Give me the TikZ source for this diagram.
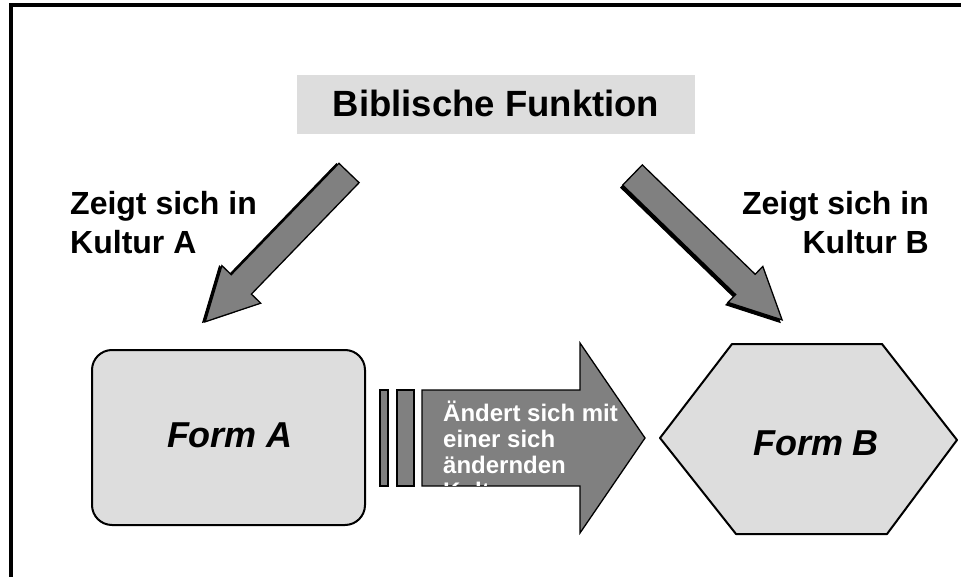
\documentclass[tikz,border=0pt]{standalone}
\usepackage{fontspec}
\setmainfont{Liberation Sans}
\begin{document}
\begin{tikzpicture}[x=1pt,y=-1pt,
  formfill/.style={fill=formgray,draw=black,line width=2pt,line join=round},
  bigarrow/.style={fill=arrowgray,draw=black,line width=1.3pt,line join=miter},
  arrowshadow/.style={fill=black,draw=black,line width=1pt},
  lbl/.style={font=\fontsize{32}{39}\selectfont\bfseries,inner sep=0pt},
  formlbl/.style={font=\fontsize{36}{40}\selectfont\bfseries\itshape,inner sep=0pt},
  flowtext/.style={font=\fontsize{24}{26}\selectfont\bfseries,text=white,inner sep=0pt}
]
\definecolor{formgray}{HTML}{DDDDDD}
\definecolor{arrowgray}{HTML}{808080}
\useasboundingbox (0,0) rectangle (961,577);

% frame on top and left
\draw[line width=4pt] (10.5,577) -- (10.5,5.5) -- (961,5.5);

% heading
\fill[formgray] (297,75) rectangle (695,134);
\node[font=\fontsize{36.5}{40}\selectfont\bfseries,inner sep=0pt,anchor=base] (title) at (496,117) {Biblische Funktion};

% left diagonal arrow
\fill[arrowshadow] [shift={(-2.5,0.5)}]
  (338.9,163.3) -- (359.1,182.7) -- (251.4,294.1) -- (260.7,303.2)
  -- (205.2,321.8) -- (221.9,265.6) -- (231.2,274.7) -- cycle;
\draw[bigarrow] (338.9,163.3) -- (359.1,182.7) -- (251.4,294.1) -- (260.7,303.2)
  -- (205.2,321.8) -- (221.9,265.6) -- (231.2,274.7) -- cycle;

% right diagonal arrow
\fill[arrowshadow] [shift={(-2,2.5)}]
  (642.3,164.9) -- (755.2,274.3) -- (762.8,266.4) -- (782.1,319.9)
  -- (728.0,302.4) -- (735.6,294.5) -- (622.7,185.1) -- cycle;
\draw[bigarrow] (642.3,164.9) -- (755.2,274.3) -- (762.8,266.4) -- (782.1,319.9)
  -- (728.0,302.4) -- (735.6,294.5) -- (622.7,185.1) -- cycle;

% side labels
\node[lbl,anchor=base west] (zeigtA) at (70,215) {Zeigt sich in};
\node[lbl,anchor=base west] (kulturA) at (70,254) {Kultur A};
\node[lbl,anchor=base east] (zeigtB) at (929,215) {Zeigt sich in};
\node[lbl,anchor=base east] (kulturB) at (929,254) {Kultur B};

% Form A
\draw[formfill,rounded corners=20pt] (92,350) rectangle (365,525);
\node[formlbl,anchor=base] (formA) at (230,447) {Form A};

% Form B
\draw[formfill] (660,438) -- (732,344) -- (882,344) -- (957,440) -- (887,534) -- (736,534) -- cycle;
\node[formlbl,anchor=base] (formB) at (816,455) {Form B};

% striped block arrow in the middle
\draw[bigarrow] (380,390) rectangle (388,486);
\draw[bigarrow] (397,390) rectangle (414,486);
\draw[bigarrow] (422,390) -- (580,390) -- (580,343) -- (645,438) -- (580,533)
  -- (580,486) -- (422,486) -- cycle;
\begin{scope}
  \clip (420,388) rectangle (650,485.3);
  \node[flowtext,anchor=base west] (change) at (443,421)
    {\vtop{\hbox{Ändert sich mit}\hbox{einer sich}\hbox{ändernden}\hbox{Kultur}}};
\end{scope}
\end{tikzpicture}
\end{document}
